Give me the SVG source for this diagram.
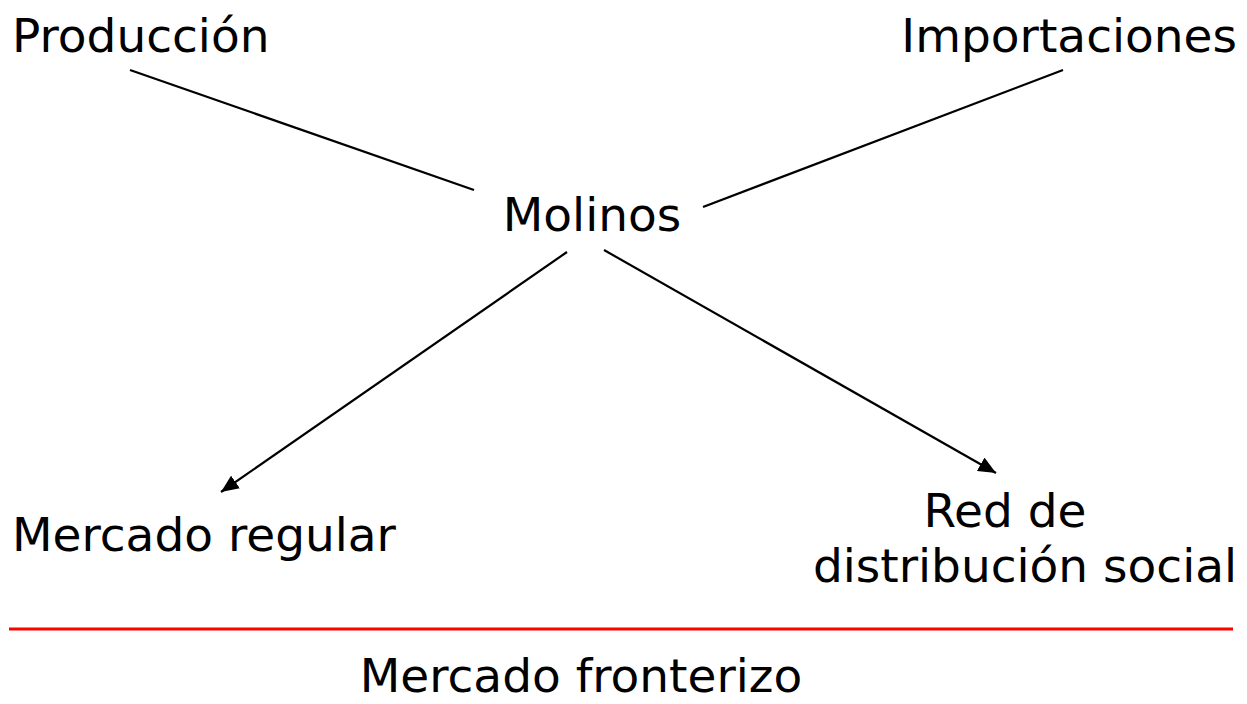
<svg xmlns="http://www.w3.org/2000/svg" width="1247" height="704" viewBox="0 0 1247 704">
<style>
text{font-family:"DejaVu Sans",Verdana,sans-serif;font-size:47px;fill:#000}
.c{stroke:#000;stroke-width:2.2;fill:none}
</style>
<defs>
<marker id="ah" viewBox="0 0 10 10" refX="10" refY="5" markerWidth="8" markerHeight="7" markerUnits="strokeWidth" orient="auto" preserveAspectRatio="none">
<path d="M0,0 L10,5 L0,10 Z" fill="#000"/>
</marker>
</defs>
<rect width="1247" height="704" fill="#fff"/>
<g id="connectors">
<line class="c" x1="130" y1="70" x2="474" y2="190"/>
<line class="c" x1="1063" y1="70" x2="703" y2="207"/>
<line class="c" x1="567" y1="252" x2="221" y2="492" marker-end="url(#ah)"/>
<line class="c" x1="604" y1="250" x2="996" y2="473" marker-end="url(#ah)"/>
<line x1="9" y1="629" x2="1233" y2="629" stroke="#f00" stroke-width="3"/>
</g>
<g id="produccion"><text x="12" y="52">Producción</text></g>
<g id="importaciones"><text x="1237" y="52" text-anchor="end">Importaciones</text></g>
<g id="molinos"><text x="592" y="231" text-anchor="middle">Molinos</text></g>
<g id="mercado-regular"><text x="12" y="551">Mercado regular</text></g>
<g id="red"><text x="1005" y="527" text-anchor="middle">Red de</text><text x="1025" y="582" text-anchor="middle">distribución social</text></g>
<g id="mercado-fronterizo"><text x="581" y="692" text-anchor="middle">Mercado fronterizo</text></g>
</svg>
